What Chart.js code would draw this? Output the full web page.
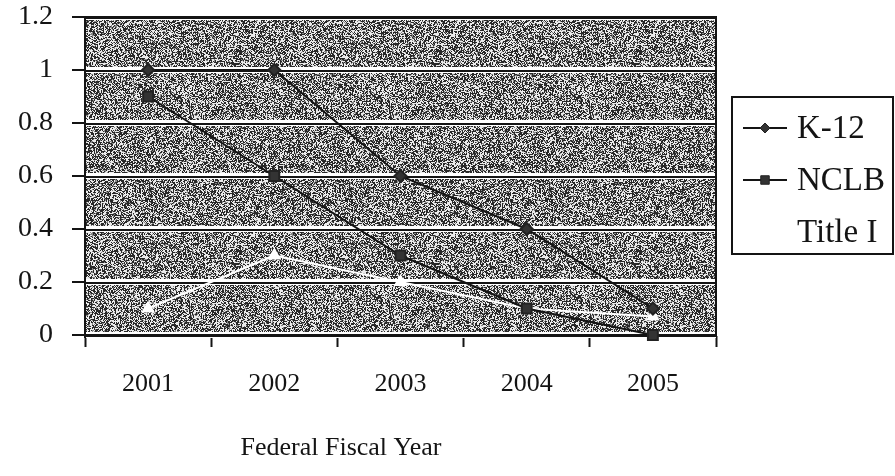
<!DOCTYPE html>
<html>
<head>
<meta charset="utf-8">
<script src="https://cdn.jsdelivr.net/npm/chart.js@4.4.1/dist/chart.umd.min.js"></script>
<style>
  html, body { margin: 0; padding: 0; background: #fff; }
  #wrap { width: 895px; height: 476px; }
</style>
</head>
<body>
<div id="wrap"><canvas id="chart" width="895" height="476"></canvas></div>
<script>
const years = ['2001', '2002', '2003', '2004', '2005'];
const k12 = [1, 1, 0.6, 0.4, 0.1];
const nclb = [0.9, 0.6, 0.3, 0.1, 0];
const titleI = [0.1, 0.3, 0.2, 0.1, 0.07];
const seriesNames = ['K-12', 'NCLB', 'Title I'];
const xTitle = 'Federal Fiscal Year';

const serif = '"Liberation Serif", "DejaVu Serif", serif';
const ink = '#141414';

// speckled grey fill like the scanned plot area
function makeTexture(ctx) {
    const c = document.createElement('canvas');
    c.width = 200; c.height = 200;
    const g = c.getContext('2d');
    const img = g.createImageData(200, 200);
    let s = 987654321;
    const rnd = () => {
        s = (s + 0x6D2B79F5) | 0;
        let t = Math.imul(s ^ (s >>> 15), 1 | s);
        t = (t + Math.imul(t ^ (t >>> 7), 61 | t)) ^ t;
        return ((t ^ (t >>> 14)) >>> 0) / 4294967296;
    };
    for (let i = 0; i < 200 * 200; i++) {
        const r = rnd();
        const v = r < 0.46 ? 40 : (r < 0.6 ? 135 : 235);
        img.data[i * 4] = v;
        img.data[i * 4 + 1] = v;
        img.data[i * 4 + 2] = v;
        img.data[i * 4 + 3] = 255;
    }
    g.putImageData(img, 0, 0);
    return ctx.createPattern(c, 'repeat');
}

let texture = null;

const plotDeco = {
    id: 'plotDeco',
    beforeDraw(chart) {
        const { ctx, chartArea: a } = chart;
        if (!texture) texture = makeTexture(ctx);
        ctx.save();
        ctx.fillStyle = texture;
        ctx.fillRect(a.left, a.top, a.right - a.left, a.bottom - a.top);
        ctx.restore();
    },
    beforeDatasetsDraw(chart) {
        const { ctx, chartArea: a } = chart;
        const y = chart.scales.y;
        ctx.save();
        ctx.strokeStyle = ink;
        ctx.lineWidth = 2;
        y.ticks.forEach(t => {
            const py = Math.round(y.getPixelForValue(t.value)) + 1;
            ctx.beginPath();
            ctx.moveTo(a.left, py);
            ctx.lineTo(a.right, py);
            ctx.stroke();
        });
        ctx.strokeRect(a.left, a.top, a.right - a.left, a.bottom - a.top);
        ctx.restore();
    },
    afterDraw(chart) {
        const { ctx, chartArea: a } = chart;
        ctx.save();
        // axis title
        ctx.font = '26px ' + serif;
        ctx.fillStyle = ink;
        ctx.textAlign = 'center';
        ctx.textBaseline = 'middle';
        ctx.fillText(xTitle, 341, 448);

        // legend box
        const left = a.right + 16, top = 97, right = 893, bottom = 254;
        ctx.strokeStyle = ink;
        ctx.lineWidth = 2;
        ctx.strokeRect(left, top, right - left, bottom - top);
        ctx.font = '33px ' + serif;
        chart.data.datasets.forEach((ds, i) => {
            const cy = top + 31 + i * 52;
            ctx.strokeStyle = ds.borderColor;
            ctx.lineWidth = 2;
            ctx.beginPath();
            ctx.moveTo(left + 11, cy);
            ctx.lineTo(left + 55, cy);
            ctx.stroke();
            ctx.fillStyle = ds.pointBackgroundColor;
            ctx.strokeStyle = ds.pointBorderColor;
            ctx.lineWidth = 1;
            Chart.helpers.drawPoint(ctx, {
                pointStyle: ds.pointStyle, rotation: 0,
                radius: ds.pointRadius - 1, borderWidth: 1
            }, left + 33, cy);
            ctx.fillStyle = ink;
            ctx.textAlign = 'left';
            ctx.fillText(ds.label, left + 65, cy + 1);
        });
        ctx.restore();
    }
};

new Chart(document.getElementById('chart'), {
    type: 'line',
    data: {
        labels: years,
        datasets: [
            { label: seriesNames[0], data: k12, borderColor: ink, borderWidth: 2,
              pointStyle: 'rectRot', pointRadius: 6, pointBackgroundColor: '#333', pointBorderColor: '#222' },
            { label: seriesNames[1], data: nclb, borderColor: ink, borderWidth: 2,
              pointStyle: 'rect', pointRadius: 7, pointBackgroundColor: '#333', pointBorderColor: '#222' },
            { label: seriesNames[2], data: titleI, borderColor: '#ffffff', borderWidth: 2,
              pointStyle: 'triangle', pointRadius: 6, pointBackgroundColor: '#ffffff', pointBorderColor: '#ffffff' }
        ]
    },
    options: {
        responsive: false,
        animation: false,
        devicePixelRatio: 1,
        clip: false,
        layout: { padding: { top: 17, right: 179, left: 0, bottom: 0 } },
        plugins: { legend: { display: false }, tooltip: { enabled: false } },
        scales: {
            x: {
                offset: true,
                grid: { offset: true, drawOnChartArea: false, tickLength: 12, tickColor: ink, tickWidth: 2 },
                border: { display: true, color: ink, width: 2 },
                ticks: { font: { family: serif, size: 26 }, color: ink, padding: 22 },
                afterFit(s) { s.height = 141; s.paddingLeft = 0; s.paddingRight = 0; }
            },
            y: {
                min: 0,
                max: 1.2,
                ticks: {
                    stepSize: 0.2, font: { family: serif, size: 28 }, color: ink, padding: 19,
                    callback: v => String(Math.round(v * 10) / 10)
                },
                grid: { color: '#ffffff', lineWidth: 6, tickLength: 13, tickColor: ink, tickWidth: 2 },
                border: { display: true, color: ink, width: 2 },
                afterFit(s) { s.width = 85; s.paddingTop = 0; s.paddingBottom = 0; }
            }
        }
    },
    plugins: [plotDeco]
});
</script>
</body>
</html>
